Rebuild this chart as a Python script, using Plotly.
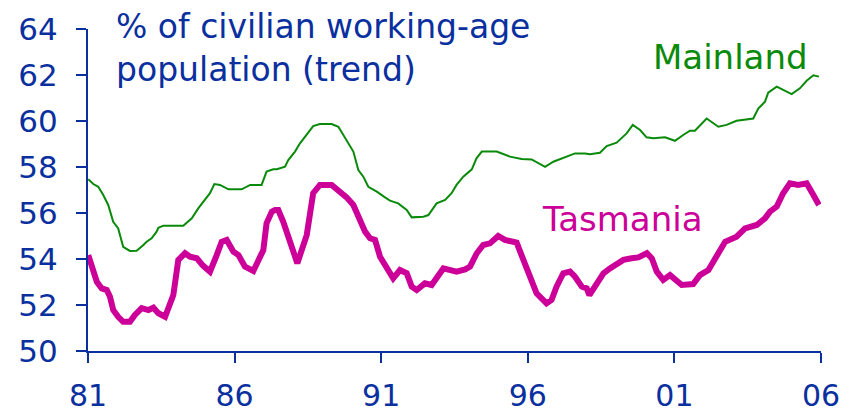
import plotly.graph_objects as go

# Mainland participation rate (trend), decimal year vs %
mainland_year = [1981.01, 1981.18, 1981.35, 1981.52, 1981.69, 1981.86, 1982.03, 1982.20, 1982.43, 1982.66,
                 1982.89, 1983.00, 1983.17, 1983.34, 1983.40, 1983.57, 1984.25, 1984.54, 1984.76, 1984.93,
                 1985.16, 1985.31, 1985.50, 1985.79, 1986.24, 1986.53, 1986.92, 1987.09, 1987.32, 1987.44,
                 1987.72, 1987.83, 1988.06, 1988.23, 1988.46, 1988.68, 1988.91, 1989.31, 1989.54, 1989.71,
                 1989.88, 1990.05, 1990.22, 1990.39, 1990.56, 1990.85, 1991.13, 1991.30, 1991.58, 1991.87,
                 1992.04, 1992.44, 1992.61, 1992.89, 1993.18, 1993.40, 1993.57, 1993.80, 1994.09, 1994.25,
                 1994.43, 1994.94, 1995.39, 1995.79, 1996.13, 1996.59, 1996.87, 1997.21, 1997.61, 1997.95,
                 1998.12, 1998.46, 1998.69, 1999.03, 1999.37, 1999.58, 1999.83, 2000.05, 2000.28, 2000.68,
                 2001.02, 2001.30, 2001.53, 2001.70, 2002.10, 2002.50, 2002.78, 2003.12, 2003.69, 2003.86,
                 2004.09, 2004.20, 2004.49, 2004.71, 2005.00, 2005.28, 2005.51, 2005.74, 2005.93]
mainland_val = [57.47, 57.26, 57.14, 56.78, 56.35, 55.62, 55.33, 54.53, 54.35, 54.36,
                54.61, 54.75, 54.90, 55.19, 55.36, 55.45, 55.45, 55.77, 56.20, 56.49,
                56.86, 57.26, 57.22, 57.03, 57.03, 57.22, 57.22, 57.80, 57.90, 57.90,
                58.01, 58.30, 58.67, 59.03, 59.39, 59.78, 59.87, 59.87, 59.75, 59.39,
                59.03, 58.67, 57.87, 57.58, 57.14, 56.93, 56.68, 56.54, 56.42, 56.13,
                55.81, 55.84, 55.91, 56.42, 56.57, 56.86, 57.22, 57.58, 57.90, 58.38,
                58.67, 58.67, 58.45, 58.35, 58.33, 58.01, 58.23, 58.38, 58.59, 58.59,
                58.55, 58.62, 58.91, 59.06, 59.46, 59.83, 59.61, 59.29, 59.25, 59.29,
                59.14, 59.39, 59.58, 59.58, 60.11, 59.75, 59.83, 60.01, 60.11, 60.54,
                60.84, 61.23, 61.49, 61.35, 61.17, 61.42, 61.75, 61.99, 61.93]

# Tasmania participation rate (trend)
tas_year = [1981.01, 1981.13, 1981.30, 1981.47, 1981.64, 1981.75, 1981.86, 1982.03, 1982.20, 1982.43,
            1982.60, 1982.83, 1983.06, 1983.23, 1983.40, 1983.63, 1983.80, 1983.91, 1984.08, 1984.31,
            1984.48, 1984.71, 1984.93, 1985.16, 1985.39, 1985.56, 1985.73, 1985.96, 1986.13, 1986.35,
            1986.64, 1986.81, 1986.98, 1987.09, 1987.27, 1987.38, 1987.49, 1987.66, 1987.83, 1988.00,
            1988.14, 1988.29, 1988.46, 1988.68, 1988.91, 1989.31, 1989.54, 1989.82, 1990.05, 1990.28,
            1990.45, 1990.62, 1990.79, 1990.96, 1991.19, 1991.41, 1991.64, 1991.87, 1992.04, 1992.21,
            1992.49, 1992.72, 1993.12, 1993.40, 1993.57, 1993.86, 1994.03, 1994.26, 1994.48, 1994.71,
            1994.99, 1995.22, 1995.39, 1995.62, 1995.85, 1996.07, 1996.30, 1996.64, 1996.81, 1996.98,
            1997.21, 1997.44, 1997.61, 1997.84, 1998.01, 1998.10, 1998.35, 1998.58, 1998.80, 1999.03,
            1999.26, 1999.54, 1999.77, 2000.06, 2000.23, 2000.40, 2000.62, 2000.85, 2001.02, 2001.25,
            2001.64, 2001.87, 2002.16, 2002.44, 2002.73, 2003.12, 2003.41, 2003.81, 2004.09, 2004.26,
            2004.49, 2004.71, 2004.94, 2005.22, 2005.51, 2005.74, 2005.93]
tas_val = [54.17, 53.67, 53.01, 52.72, 52.65, 52.36, 51.78, 51.49, 51.27, 51.27,
           51.57, 51.86, 51.78, 51.88, 51.64, 51.49, 52.07, 52.43, 53.96, 54.25,
           54.10, 54.03, 53.70, 53.45, 54.17, 54.75, 54.83, 54.32, 54.17, 53.67,
           53.48, 53.96, 54.39, 55.55, 56.06, 56.13, 56.13, 55.62, 54.90, 54.25,
           53.81, 54.39, 55.04, 56.86, 57.22, 57.22, 57.00, 56.68, 56.35, 55.62,
           55.19, 54.90, 54.83, 54.10, 53.59, 53.16, 53.52, 53.38, 52.80, 52.65,
           52.94, 52.87, 53.59, 53.52, 53.45, 53.55, 53.67, 54.25, 54.61, 54.68,
           55.00, 54.83, 54.75, 54.71, 53.96, 53.30, 52.51, 52.07, 52.22, 52.80,
           53.38, 53.45, 53.23, 52.80, 52.72, 52.43, 52.94, 53.38, 53.59, 53.81,
           53.96, 54.03, 54.07, 54.25, 54.03, 53.45, 53.09, 53.30, 53.09, 52.87,
           52.91, 53.30, 53.52, 54.10, 54.75, 54.97, 55.33, 55.48, 55.77, 56.06,
           56.28, 56.86, 57.29, 57.22, 57.29, 56.78, 56.35]

x_tick_vals = [1981, 1986, 1991, 1996, 2001, 2006]
x_tick_text = ["81", "86", "91", "96", "01", "06"]
y_tick_vals = [50, 52, 54, 56, 58, 60, 62, 64]

BLUE = "#0a30a0"
GREEN = "#0a8a0a"
MAGENTA = "#cc0099"
FONT = "DejaVu Sans"

fig = go.Figure()
fig.add_trace(go.Scatter(x=mainland_year, y=mainland_val, mode="lines",
                         line=dict(color=GREEN, width=2), name="Mainland"))
fig.add_trace(go.Scatter(x=tas_year, y=tas_val, mode="lines",
                         line=dict(color=MAGENTA, width=6), name="Tasmania"))

fig.update_layout(
    width=856, height=412,
    margin=dict(l=88, r=35, t=29, b=61, autoexpand=False),
    paper_bgcolor="white", plot_bgcolor="white",
    showlegend=False,
    font=dict(family=FONT, color=BLUE),
)
fig.update_xaxes(range=[1981, 2006], tickvals=x_tick_vals, ticktext=x_tick_text,
                 automargin=False,
                 showgrid=False, zeroline=False, showline=True, linecolor=BLUE, linewidth=2,
                 ticks="outside", ticklen=10, tickwidth=2, tickcolor=BLUE,
                 tickfont=dict(family=FONT, size=30, color=BLUE), ticklabelstandoff=7)
fig.update_yaxes(range=[50, 64], tickvals=y_tick_vals,
                 automargin=False,
                 showgrid=False, zeroline=False, showline=True, linecolor=BLUE, linewidth=2,
                 ticks="outside", ticklen=10, tickwidth=2, tickcolor=BLUE,
                 tickfont=dict(family=FONT, size=31, color=BLUE), ticklabelstandoff=12)

fig.add_annotation(xref="paper", yref="paper", x=0.036, y=1.075, xanchor="left", yanchor="top",
                   text="% of civilian working-age<br>population (trend)", showarrow=False,
                   align="left", font=dict(family=FONT, size=33, color=BLUE))
fig.add_annotation(xref="x", yref="y", x=2002.93, y=62.78, xanchor="center", yanchor="middle",
                   text="Mainland", showarrow=False, font=dict(family=FONT, size=34, color=GREEN))
fig.add_annotation(xref="x", yref="y", x=1999.21, y=55.75, xanchor="center", yanchor="middle",
                   text="Tasmania", showarrow=False, font=dict(family=FONT, size=34, color=MAGENTA))

fig.write_html("out.html", config={"displayModeBar": False},
               post_script="document.body.style.margin='0';document.body.style.overflow='hidden';")
